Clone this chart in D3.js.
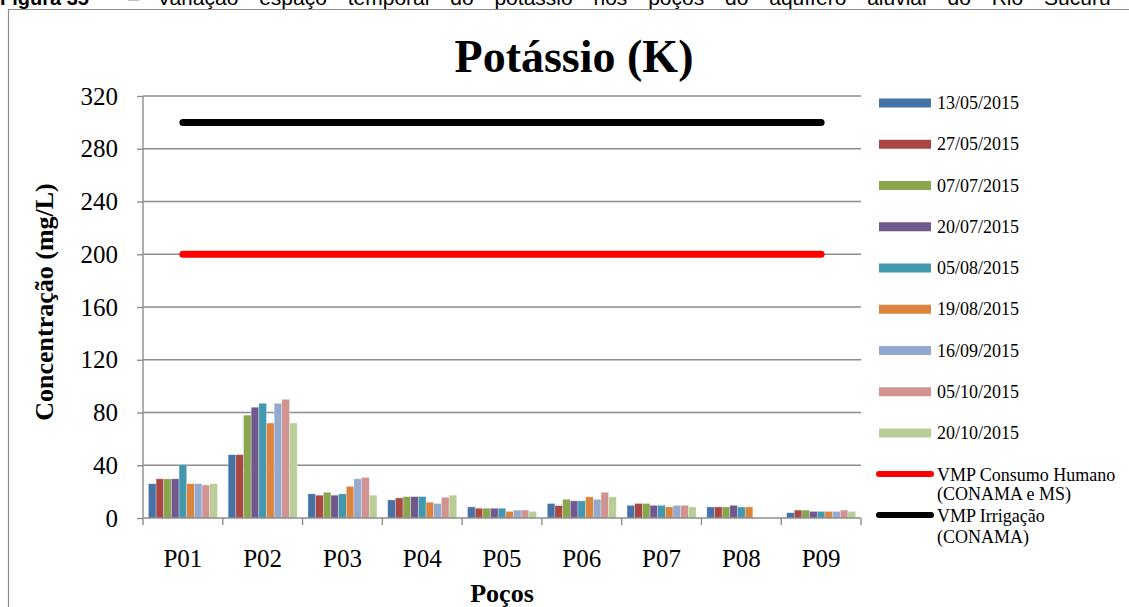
<!DOCTYPE html>
<html><head><meta charset="utf-8">
<script src="https://cdn.jsdelivr.net/npm/d3@7"></script>
<style>body{margin:0;background:#fff;} svg{display:block;}</style>
</head><body>
<svg id="c" width="1129" height="607"></svg>
<script>
const categories = ["P01","P02","P03","P04","P05","P06","P07","P08","P09"];
const seriesNames = ["13/05/2015","27/05/2015","07/07/2015","20/07/2015","05/08/2015","19/08/2015","16/09/2015","05/10/2015","20/10/2015"];
const seriesColors = ["#4572A7","#AA4643","#89A54E","#71588F","#4198AF","#DB843D","#93A9CF","#D19392","#B9CD96"];
const s1 = [26, 48, 18.3, 13.7, 8.4, 11, 9.6, 8.4, 4];
const s2 = [29.7, 48, 17.3, 15.2, 7.4, 9.4, 11, 8.4, 6];
const s3 = [29.7, 78, 19.5, 16.2, 7.4, 14.2, 11, 8.4, 6];
const s4 = [29.7, 84, 17.3, 16.2, 7.4, 13, 9.6, 9.6, 5];
const s5 = [40.6, 87, 18.3, 16.2, 7.4, 13, 9.6, 8.4, 5];
const s6 = [26, 72, 24, 12, 5, 16, 8.4, 8.4, 5];
const s7 = [26, 87, 29.7, 11, 6, 14.2, 9.6, null, 5];
const s8 = [25, 90, 30.7, 15.7, 6, 19.5, 9.6, null, 6];
const s9 = [26, 72, 17.3, 17.3, 5, 16, 8.4, null, 5];
const seriesValues = [s1,s2,s3,s4,s5,s6,s7,s8,s9];
const vmpHumano = 200;
const vmpIrrigacao = 300;
const yTicks = [0,40,80,120,160,200,240,280,320];

const svg = d3.select("#c");
const L = 143, R = 861, T = 96, B = 518;
const serif = "'Liberation Serif','Times New Roman',serif";
const sans = "'Liberation Sans',Arial,sans-serif";

// caption (cut off at top, as in the source)
svg.append("text").attr("x", 0).attr("y", 5)
  .attr("font-family", sans).attr("font-size", 20).attr("font-weight", "bold").text("Figura 35");
svg.append("text").attr("x", 128).attr("y", 5)
  .attr("font-family", sans).attr("font-size", 20).text("–");
svg.append("text").attr("x", 157).attr("y", 5)
  .attr("font-family", sans).attr("font-size", 21).attr("word-spacing", 15)
  .text("Variação espaço temporal do potássio nos poços do aquífero aluvial do Rio Sucuru");

// frame
svg.append("path").attr("d", "M8.5,607 V9.5 H1129").attr("fill", "none").attr("stroke", "#8c8c8c").attr("stroke-width", 1.2);

const x0 = d3.scaleBand().domain(categories).range([L, R]).paddingInner(0.135).paddingOuter(0.0675);
const x1 = d3.scaleBand().domain(seriesNames).range([0, x0.bandwidth()]);
const y = d3.scaleLinear().domain([0, 320]).range([B, T]);

// gridlines
svg.append("g").selectAll("line").data(yTicks.filter(d => d > 0)).join("line")
  .attr("x1", L).attr("x2", R).attr("y1", d => y(d)).attr("y2", d => y(d))
  .attr("stroke", "#8c8c8c").attr("stroke-width", 1.4);

// bars
seriesNames.forEach((name, si) => {
  svg.append("g").selectAll("rect").data(categories.map((c, ci) => ({c, v: seriesValues[si][ci]})).filter(d => d.v != null)).join("rect")
    .attr("x", d => x0(d.c) + x1(name))
    .attr("width", x1.bandwidth())
    .attr("y", d => y(d.v)).attr("height", d => y(0) - y(d.v))
    .attr("fill", seriesColors[si]).attr("stroke", "#fff").attr("stroke-opacity", 0.5).attr("stroke-width", 0.6);
});

// axes
const yAxis = svg.append("g").attr("transform", `translate(${L},0)`)
  .call(d3.axisLeft(y).tickValues(yTicks).tickSize(6).tickPadding(19));
yAxis.select(".domain").attr("stroke", "#8c8c8c").attr("stroke-width", 1.4).attr("d", `M-0,${T}V${B}`);
yAxis.selectAll(".tick line").attr("stroke", "#8c8c8c").attr("stroke-width", 1.4);
yAxis.selectAll(".tick text").attr("font-family", serif).attr("font-size", 25).attr("fill", "#000");

const xAxisScale = d3.scalePoint().domain(d3.range(categories.length + 1)).range([L, R]);
const xAxis = svg.append("g").attr("transform", `translate(0,${B})`);
xAxis.append("line").attr("x1", L).attr("x2", R).attr("stroke", "#8c8c8c").attr("stroke-width", 1.4);
xAxis.selectAll("line.tk").data(d3.range(categories.length + 1)).join("line").attr("class", "tk")
  .attr("x1", d => xAxisScale(d)).attr("x2", d => xAxisScale(d)).attr("y1", 0).attr("y2", 7)
  .attr("stroke", "#8c8c8c").attr("stroke-width", 1.4);
xAxis.selectAll("text").data(categories).join("text")
  .attr("x", d => x0(d) + x0.bandwidth() / 2).attr("y", 49).attr("text-anchor", "middle")
  .attr("font-family", serif).attr("font-size", 25).text(d => d);

// reference lines
const lineX = d3.scalePoint().domain(categories).range([L, R]).padding(0.5);
const lineGen = d3.line().x(d => lineX(d[0])).y(d => y(d[1]));
svg.append("path").attr("d", lineGen(categories.map(c => [c, vmpHumano])))
  .attr("fill", "none").attr("stroke", "#FF0000").attr("stroke-width", 7).attr("stroke-linecap", "round");
svg.append("path").attr("d", lineGen(categories.map(c => [c, vmpIrrigacao])))
  .attr("fill", "none").attr("stroke", "#000").attr("stroke-width", 7).attr("stroke-linecap", "round");

// titles
svg.append("text").attr("x", 574).attr("y", 72).attr("text-anchor", "middle")
  .attr("font-family", serif).attr("font-weight", "bold").attr("font-size", 46).text("Potássio (K)");
svg.append("text").attr("x", 502).attr("y", 602).attr("text-anchor", "middle")
  .attr("font-family", serif).attr("font-weight", "bold").attr("font-size", 26).text("Poços");
svg.append("text").attr("transform", "translate(53,302) rotate(-90)").attr("text-anchor", "middle")
  .attr("font-family", serif).attr("font-weight", "bold").attr("font-size", 26).text("Concentração (mg/L)");

// legend
const leg = svg.append("g");
seriesNames.forEach((name, i) => {
  const cy = 103 + i * 41.25;
  leg.append("rect").attr("x", 879).attr("y", cy - 4.5).attr("width", 52).attr("height", 9).attr("fill", seriesColors[i]);
  leg.append("text").attr("x", 937).attr("y", cy + 6).attr("font-family", serif).attr("font-size", 18).text(name);
});
leg.append("line").attr("x1", 879).attr("x2", 931).attr("y1", 474).attr("y2", 474).attr("stroke", "#FF0000").attr("stroke-width", 6).attr("stroke-linecap", "round");
leg.append("text").attr("x", 937).attr("y", 481).attr("font-family", serif).attr("font-size", 18).text("VMP Consumo Humano");
leg.append("text").attr("x", 937).attr("y", 500).attr("font-family", serif).attr("font-size", 18).text("(CONAMA e MS)");
leg.append("line").attr("x1", 879).attr("x2", 931).attr("y1", 515).attr("y2", 515).attr("stroke", "#000").attr("stroke-width", 6).attr("stroke-linecap", "round");
leg.append("text").attr("x", 937).attr("y", 522).attr("font-family", serif).attr("font-size", 18).text("VMP Irrigação");
leg.append("text").attr("x", 937).attr("y", 543).attr("font-family", serif).attr("font-size", 18).text("(CONAMA)");
</script>
</body></html>
